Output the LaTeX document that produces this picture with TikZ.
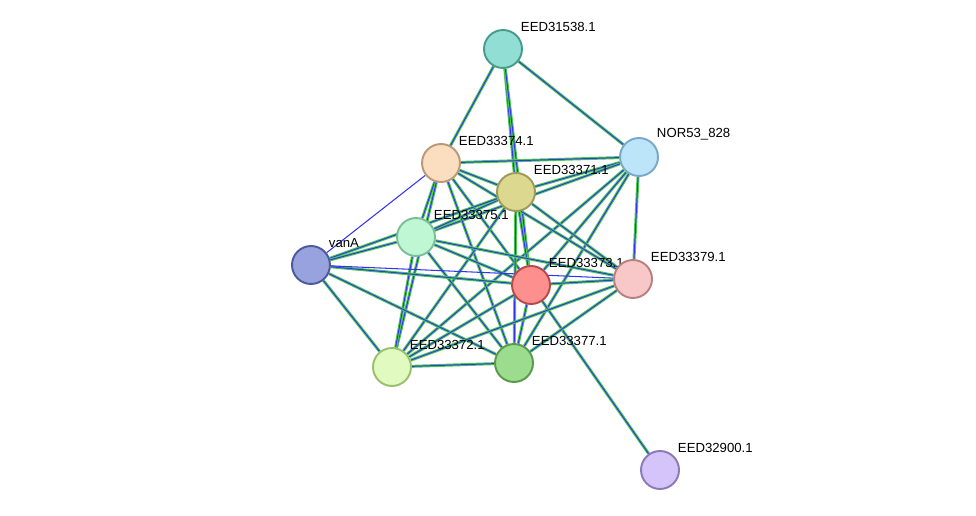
\documentclass[tikz,border=0pt]{standalone}
\usepackage{fontspec}
\setmainfont{Liberation Sans}
\usetikzlibrary{arrows,backgrounds}

\definecolor{tealfill}{HTML}{90DED4}
\definecolor{tealdraw}{HTML}{4A9A8E}
\definecolor{bluefill}{HTML}{BDE5FA}
\definecolor{bluedraw}{HTML}{7AA8C8}
\definecolor{peachfill}{HTML}{FBDDBF}
\definecolor{peachdraw}{HTML}{B89A7A}
\definecolor{khakifill}{HTML}{DCD890}
\definecolor{khakidraw}{HTML}{9C9A5A}
\definecolor{mintfill}{HTML}{BFF7D5}
\definecolor{mintdraw}{HTML}{7ABF95}
\definecolor{vanfill}{HTML}{98A2DE}
\definecolor{vandraw}{HTML}{4A5A9A}
\definecolor{redfill}{HTML}{FE8F8F}
\definecolor{reddraw}{HTML}{B44A4A}
\definecolor{pinkfill}{HTML}{F8C8C8}
\definecolor{pinkdraw}{HTML}{B88080}
\definecolor{limefill}{HTML}{E0FAC0}
\definecolor{limedraw}{HTML}{9ABF70}
\definecolor{greenfill}{HTML}{9CDC8E}
\definecolor{greendraw}{HTML}{5A9A4A}
\definecolor{lavfill}{HTML}{D5C4FA}
\definecolor{lavdraw}{HTML}{8A7AB8}
\definecolor{linkgreen}{HTML}{4CCC4C}
\definecolor{linkblue}{HTML}{3434F0}

\begin{document}
\begin{tikzpicture}[
                            x=0.02cm,
                            y=-0.02cm,
                            every label/.style={font=\fontsize{7.5}{9}\selectfont,inner sep=0pt,anchor=south west,xshift=2pt,yshift=1.5pt},
                            prot/.style 2 args={circle,minimum size=0.76cm,line width=1.1pt,fill=#1,draw=#2},
                            link/.style={draw=linkgreen,line width=1.7pt,postaction={draw=linkblue,line width=0.55pt}},
                            weak/.style={draw=linkblue,line width=0.6pt}
                        ]
                        \useasboundingbox (0,0) rectangle (976,516);

                        \node[prot={tealfill}{tealdraw}, label={north east:EED31538.1}] (A) at (503,49) {};
                        \node[prot={bluefill}{bluedraw}, label={north east:NOR53\_828}] (N) at (639,157) {};
                        \node[prot={peachfill}{peachdraw}, label={north east:EED33374.1}] (B) at (441,163) {};
                        \node[prot={khakifill}{khakidraw}, label={north east:EED33371.1}] (C) at (516,192) {};
                        \node[prot={mintfill}{mintdraw}, label={north east:EED33375.1}] (D) at (416,237) {};
                        \node[prot={vanfill}{vandraw}, label={north east:vanA}] (V) at (311,265) {};
                        \node[prot={redfill}{reddraw}, label={north east:EED33373.1}] (E) at (531,285) {};
                        \node[prot={pinkfill}{pinkdraw}, label={north east:EED33379.1}] (F) at (633,279) {};
                        \node[prot={limefill}{limedraw}, label={north east:EED33372.1}] (G) at (392,367) {};
                        \node[prot={greenfill}{greendraw}, label={north east:EED33377.1}] (H) at (514,363) {};
                        \node[prot={lavfill}{lavdraw}, label={north east:EED32900.1}] (P) at (660,470) {};

                        \begin{pgfonlayer}{background}
                        \foreach \s/\t in {A/B,A/C,A/N,A/E,N/B,N/C,N/D,N/E,N/F,N/H,N/G,
                                           B/C,B/D,B/E,B/F,B/H,B/G,C/D,C/V,C/E,C/F,C/H,C/G,
                                           D/V,D/E,D/F,D/H,D/G,V/E,V/G,V/H,E/F,E/H,E/G,E/P,F/H,F/G,G/H}
                            \path[link] (\s) -- (\t);
                        \path[weak] (B) -- (V);
                        \path[weak] (V) -- (F);
                        \end{pgfonlayer}
                    \end{tikzpicture}
\end{document}
